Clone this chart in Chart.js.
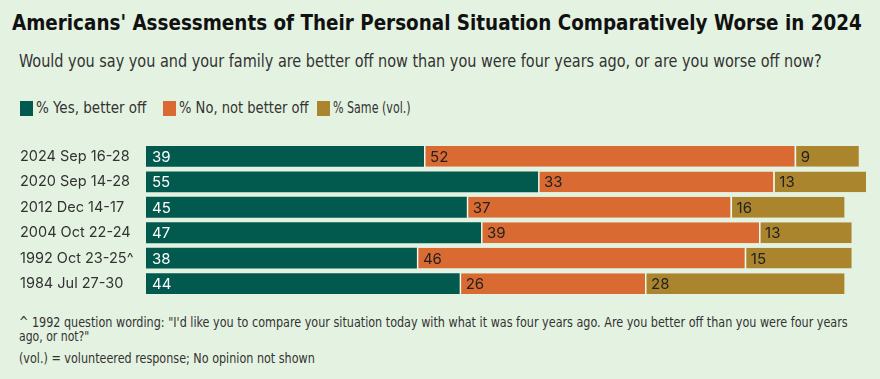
<!DOCTYPE html>
<html>
<head>
<meta charset="utf-8">
<script src="https://cdn.jsdelivr.net/npm/chart.js@4/dist/chart.umd.min.js"></script>
<style>
  html, body { margin: 0; padding: 0; }
  body { width: 880px; height: 379px; background: #e4f2e1; position: relative; overflow: hidden; color: #222; }
  .cond { font-family: "DejaVu Sans Condensed", "DejaVu Sans", sans-serif; white-space: nowrap; transform-origin: left top; position: absolute; }
  #title { left: 12px; top: 11px; font-weight: bold; font-size: 21px; color: #111; }
  #sub { left: 19px; top: 51px; font-size: 17.5px; color: #333; }
  .lt { top: 99px; font-size: 15px; color: #333; }
  .sw { position: absolute; top: 101px; width: 13px; height: 15px; }
  #wrap { position: absolute; left: 0; top: 135px; width: 880px; height: 170px; }
  .fn { left: 19px; font-size: 14px; color: #333; line-height: 13px; }
</style>
</head>
<body>
<div id="title" class="cond" data-w="850">Americans' Assessments of Their Personal Situation Comparatively Worse in 2024</div>
<div id="sub" class="cond" data-w="803">Would you say you and your family are better off now than you were four years ago, or are you worse off now?</div>
<div id="legend"></div>
<div id="wrap"><canvas id="c" width="880" height="170"></canvas></div>
<div class="fn cond" style="top:316px" data-w="829">^ 1992 question wording: "I'd like you to compare your situation today with what it was four years ago. Are you better off than you were four years</div>
<div class="fn cond" style="top:330px" data-w="70">ago, or not?"</div>
<div class="fn cond" style="top:352px" data-w="296">(vol.) = volunteered response; No opinion not shown</div>
<script>
const categories = ["2024 Sep 16-28", "2020 Sep 14-28", "2012 Dec 14-17", "2004 Oct 22-24", "1992 Oct 23-25^", "1984 Jul 27-30"];
const seriesNames = ["% Yes, better off", "% No, not better off", "% Same (vol.)"];
const betterOff = [39, 55, 45, 47, 38, 44];
const notBetterOff = [52, 33, 37, 39, 46, 26];
const same = [9, 13, 16, 13, 15, 28];
const colors = ["#02594e", "#d96a32", "#ab852e"];
const labelColors = ["#ffffff", "#222222", "#222222"];

// legend (HTML)
const legendLefts = [20, 163, 317];
const legendTextW = [110, 130, 78];
const lg = document.getElementById('legend');
seriesNames.forEach((n, i) => {
  const s = document.createElement('span'); s.className = 'sw';
  s.style.left = legendLefts[i] + 'px'; s.style.background = colors[i];
  lg.appendChild(s);
  const t = document.createElement('div'); t.className = 'cond lt';
  t.style.left = (legendLefts[i] + 16) + 'px'; t.dataset.w = legendTextW[i];
  t.textContent = n;
  lg.appendChild(t);
});

// fit condensed text widths
document.querySelectorAll('.cond[data-w]').forEach(el => {
  const w = el.scrollWidth;
  el.style.transform = 'scaleX(' + (parseFloat(el.dataset.w) / w) + ')';
});

const valueLabels = {
  id: 'valueLabels',
  afterDatasetsDraw(chart) {
    const ctx = chart.ctx;
    ctx.save();
    ctx.font = '15px Inter, "Noto Sans", sans-serif';
    ctx.textBaseline = 'middle';
    ctx.textAlign = 'left';
    chart.data.datasets.forEach((ds, di) => {
      const meta = chart.getDatasetMeta(di);
      meta.data.forEach((el, i) => {
        ctx.fillStyle = labelColors[di];
        ctx.fillText(String(ds.data[i]), Math.min(el.base, el.x) + 6, el.y + 1);
      });
    });
    ctx.restore();
  }
};

const mk = (label, data, i) => ({
  label, data,
  backgroundColor: colors[i],
  borderColor: '#f3f8ef',
  borderWidth: i === 0 ? 0 : { left: 1.5, right: 0, top: 0, bottom: 0 },
  borderSkipped: false,
  barPercentage: 0.82,
  categoryPercentage: 1.0
});

new Chart(document.getElementById('c'), {
  type: 'bar',
  data: {
    labels: categories,
    datasets: [mk(seriesNames[0], betterOff, 0), mk(seriesNames[1], notBetterOff, 1), mk(seriesNames[2], same, 2)]
  },
  options: {
    indexAxis: 'y',
    responsive: false,
    animation: false,
    layout: { padding: { left: 20, right: 14, top: 6.5, bottom: 5 } },
    plugins: { legend: { display: false }, tooltip: { enabled: false }, title: { display: false } },
    scales: {
      x: { stacked: true, min: 0, max: 101, display: false },
      y: {
        stacked: true,
        grid: { display: false },
        border: { display: false },
        ticks: { crossAlign: 'far', color: '#333', padding: 0, font: { family: 'Inter, "Noto Sans", sans-serif', size: 14.5 } },
        afterFit(scale) { scale.width = 126; }
      }
    }
  },
  plugins: [valueLabels]
});
</script>
</body>
</html>
